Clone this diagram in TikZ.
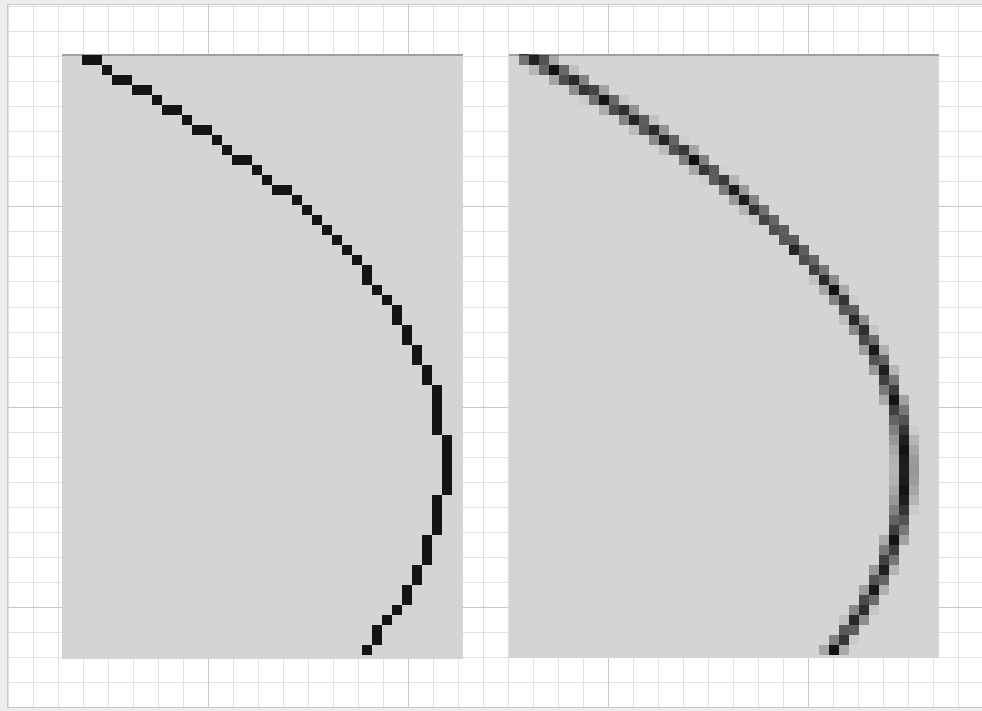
\documentclass[tikz,border=0pt]{standalone}
\definecolor{outerbg}{HTML}{EDEDED}
\definecolor{minorline}{HTML}{E0E0E0}
\definecolor{majorline}{HTML}{C8C8C8}
\definecolor{panelbg}{HTML}{D4D4D4}
\definecolor{paneledge}{HTML}{A0A0A0}
\definecolor{ink}{HTML}{141414}
\tikzset{
  minorgrid/.style={draw=minorline, line width=1pt},
  majorgrid/.style={draw=majorline, line width=1pt},
  panelbox/.style={fill=panelbg},
  paneltop/.style={draw=paneledge, line width=2pt},
  hardpix/.style={fill=ink},
  softpix/.style={fill=black}
}
\begin{document}
\begin{tikzpicture}[x=1pt,y=-1pt]
\useasboundingbox (0,0) rectangle (982,711);
\fill[outerbg] (0,0) rectangle (982,711);
\fill[white] (7,5) rectangle (982,707);
% minor grid
\foreach \i in {0,...,39} {\draw[minorgrid] ({8+25*\i},5) -- ({8+25*\i},707);}
\foreach \j in {0,...,28} {\draw[minorgrid] (7,{7+25*\j}) -- (982,{7+25*\j});}
% major grid
\foreach \i in {1,...,4} {\draw[majorgrid] ({8+200*\i},5) -- ({8+200*\i},707);}
\foreach \j in {1,...,3} {\draw[majorgrid] (7,{7+200*\j}) -- (982,{7+200*\j});}
\draw[majorgrid] (982,5) -- (7,5) -- (7,707) -- (982,707);
% panels
\fill[panelbox] (62,55) rectangle (463,659);
\fill[panelbox] (509,55) rectangle (939,658);
\draw[paneltop] (62,55) -- (463,55);
\draw[paneltop] (509,55) -- (939,55);
% left aliased curve: x = 444 - a (y-462)^2
\begin{scope}
\clip (62,55) rectangle (463,659);
\foreach \c in {2,...,26} {
  \pgfmathsetmacro\xc{62+(\c+0.5)*10}
  \pgfmathsetmacro\yc{462-sqrt(444-\xc)*21.335}
  \pgfmathtruncatemacro\r{floor((\yc-55)/10)}
  \fill[hardpix] ({62+\c*10},{55+\r*10}) rectangle ++(10,10);
}
\foreach \r in {18,...,59} {
  \pgfmathsetmacro\yc{55+(\r+0.5)*10}
  \pgfmathsetmacro\dd{(\yc-462)/10}
  \pgfmathsetmacro\xc{444-0.2197*\dd*\dd}
  \pgfmathtruncatemacro\c{floor((\xc-62)/10)}
  \fill[hardpix] ({62+\c*10},{55+\r*10}) rectangle ++(10,10);
}
\end{scope}
% right antialiased curve: x = 905 - a (y-470)^2
\begin{scope}
\clip (509,55) rectangle (939,658);
\foreach \c in {1,...,28} {
  \pgfmathsetmacro\xc{509+(\c+0.5)*10}
  \pgfmathsetmacro\yc{470-sqrt(905-\xc)*21.345}
  \pgfmathsetmacro\v{(\yc-55)/10}
  \pgfmathtruncatemacro\jz{floor(\v)}
  \foreach \dj in {-1,0,1} {
    \pgfmathtruncatemacro\jj{\jz+\dj}
    \pgfmathsetmacro\op{max(0,1-abs(\jj+0.5-\v)/1.3)*0.92}
    \fill[softpix, fill opacity=\op] ({509+\c*10},{55+\jj*10}) rectangle ++(10,10);
  }
}
\foreach \r in {19,...,59} {
  \pgfmathsetmacro\yc{55+(\r+0.5)*10}
  \pgfmathsetmacro\dd{(\yc-470)/10}
  \pgfmathsetmacro\xc{905-0.2195*\dd*\dd}
  \pgfmathsetmacro\u{(\xc-509)/10}
  \pgfmathtruncatemacro\iz{floor(\u)}
  \foreach \di in {-1,0,1} {
    \pgfmathtruncatemacro\ii{\iz+\di}
    \pgfmathsetmacro\op{max(0,1-abs(\ii+0.5-\u)/1.3)*0.92}
    \fill[softpix, fill opacity=\op] ({509+\ii*10},{55+\r*10}) rectangle ++(10,10);
  }
}
\end{scope}
\end{tikzpicture}
\end{document}
